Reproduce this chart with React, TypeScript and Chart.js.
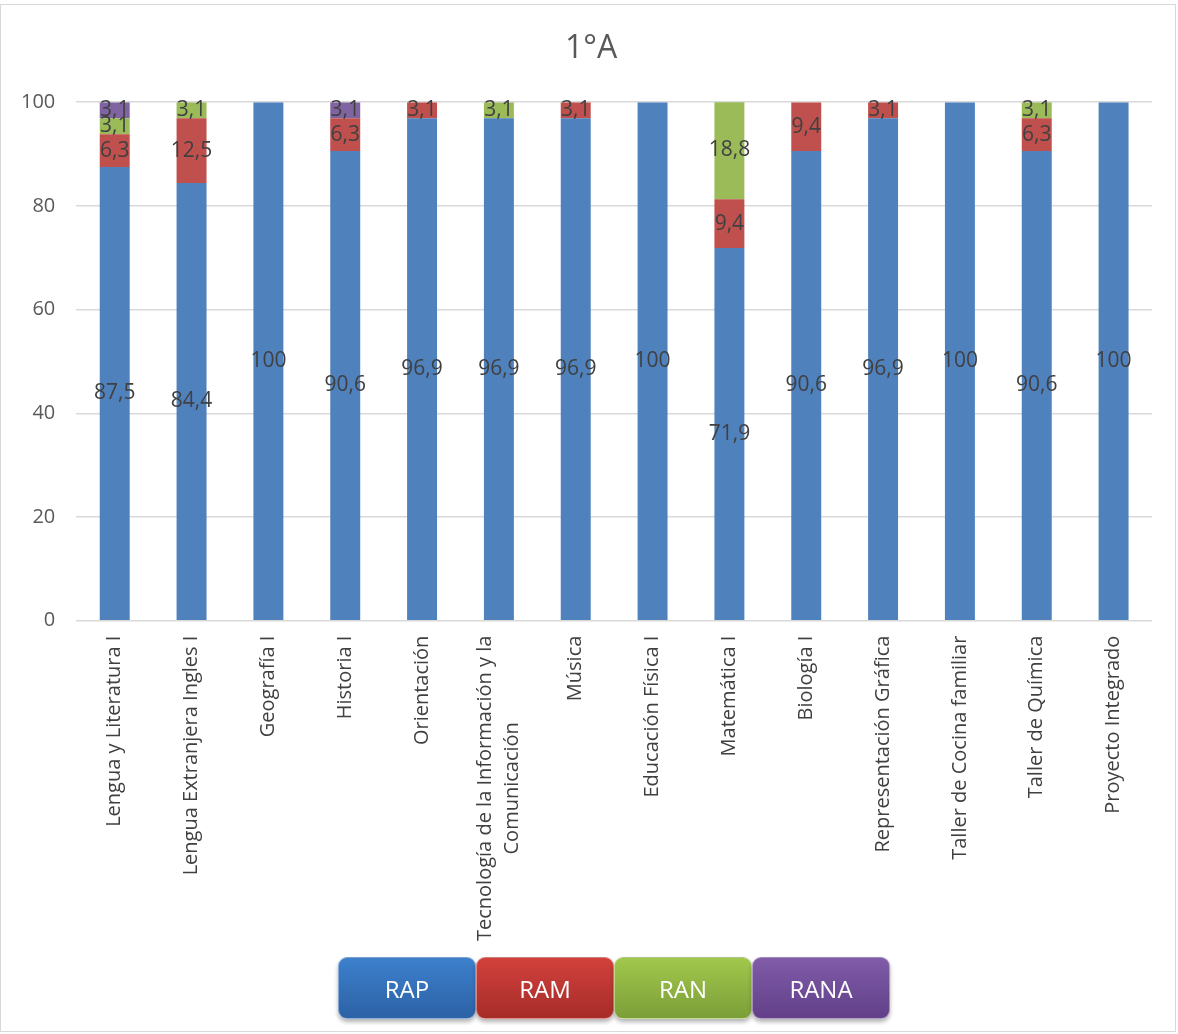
import React, { useEffect, useRef } from "react";
import { Chart, registerables } from "chart.js";

Chart.register(...registerables);

const categories: (string | string[])[] = [
  "Lengua y Literatura I",
  "Lengua Extranjera Ingles I",
  "Geografía I",
  "Historia I",
  "Orientación",
  ["Tecnología de la Información y la", "Comunicación"],
  "Música",
  "Educación Física I",
  "Matemática I",
  "Biología I",
  "Representación Gráfica",
  "Taller de Cocina familiar",
  "Taller de Química",
  "Proyecto Integrado",
];

const chartTitle = "1°A";
const seriesNames = ["RAP", "RAM", "RAN", "RANA"];
const rap = [87.5, 84.4, 100, 90.6, 96.9, 96.9, 96.9, 100, 71.9, 90.6, 96.9, 100, 90.6, 100];
const ram = [6.3, 12.5, 0, 6.3, 3.1, 0, 3.1, 0, 9.4, 9.4, 3.1, 0, 6.3, 0];
const ran = [3.1, 3.1, 0, 0, 0, 3.1, 0, 0, 18.8, 0, 0, 0, 3.1, 0];
const rana = [3.1, 0, 0, 3.1, 0, 0, 0, 0, 0, 0, 0, 0, 0, 0];
const yTicks = [0, 20, 40, 60, 80, 100];

const barColors = ["#4f81bd", "#c0504d", "#9bbb59", "#8064a2"];
const legendGradients = [
  ["#3d80cc", "#2c62a6"],
  ["#d2413c", "#a62c29"],
  ["#a1c84c", "#7c9e38"],
  ["#805ca9", "#623f88"],
];

const FONT = "'Open Sans', sans-serif";

const fmt = (v: number) => (Number.isInteger(v) ? String(v) : v.toFixed(1).replace(".", ","));

const dataLabelPlugin = {
  id: "dataLabels",
  afterDatasetsDraw(chart: any) {
    const ctx = chart.ctx;
    ctx.save();
    ctx.font = `21px ${FONT}`;
    ctx.fillStyle = "#404040";
    ctx.textAlign = "center";
    ctx.textBaseline = "middle";
    chart.data.datasets.forEach((ds: any, di: number) => {
      const meta = chart.getDatasetMeta(di);
      meta.data.forEach((el: any, i: number) => {
        const v = ds.data[i];
        if (!v) return;
        const y = (el.y + el.base) / 2;
        ctx.fillText(fmt(v), el.x, y);
      });
    });
    ctx.restore();
  },
};

const titlePlugin = {
  id: "centerTitle",
  afterDraw(chart: any) {
    const ctx = chart.ctx;
    ctx.save();
    ctx.font = `32px ${FONT}`;
    ctx.fillStyle = "#595959";
    ctx.textAlign = "center";
    ctx.textBaseline = "middle";
    ctx.fillText(chartTitle, chart.width / 2 + 2, 49);
    ctx.restore();
  },
};

const xLabelPlugin = {
  id: "xLabels",
  afterDraw(chart: any) {
    const ctx = chart.ctx;
    const scale = chart.scales.x;
    ctx.save();
    ctx.font = `20px ${FONT}`;
    ctx.fillStyle = "#404040";
    ctx.textBaseline = "middle";
    const lh = 27;
    categories.forEach((lab, i) => {
      const lines = Array.isArray(lab) ? lab : [lab];
      const x = scale.getPixelForTick(i);
      const y0 = scale.top + 15;
      const widths = lines.map((l) => ctx.measureText(l).width);
      const W = Math.max(...widths);
      ctx.save();
      ctx.translate(x, y0);
      ctx.rotate(-Math.PI / 2);
      ctx.textAlign = "center";
      lines.forEach((l, li) => {
        const yy = (li - (lines.length - 1) / 2) * lh;
        ctx.fillText(l, -W / 2, yy);
      });
      ctx.restore();
    });
    ctx.restore();
  },
};

export default function App() {
  const ref = useRef<HTMLCanvasElement | null>(null);

  useEffect(() => {
    if (!ref.current) return;
    const series = [rap, ram, ran, rana];
    const chart = new Chart(ref.current, {
      type: "bar",
      data: {
        labels: categories as any,
        datasets: series.map((d, i) => ({
          label: seriesNames[i],
          data: d,
          backgroundColor: barColors[i],
          borderWidth: 0,
          categoryPercentage: 1,
          barPercentage: 0.39,
        })),
      },
      options: {
        animation: false,
        responsive: true,
        maintainAspectRatio: false,
        layout: { padding: { left: 0, right: 26, top: 0, bottom: 88 } },
        plugins: {
          legend: { display: false },
          tooltip: { enabled: false },
          title: {
            display: true,
            text: chartTitle,
            color: "rgba(0,0,0,0)",
            font: { family: FONT, size: 31, weight: "normal" as any },
            padding: { top: 31, bottom: 34 },
          },
        },
        scales: {
          x: {
            stacked: true,
            grid: { display: false },
            border: { display: false },
            ticks: {
              autoSkip: false,
              minRotation: 90,
              maxRotation: 90,
              color: "rgba(0,0,0,0)",
              font: { family: FONT, size: 20 },
              padding: 6,
            },
          },
          y: {
            stacked: true,
            min: 0,
            max: 100,
            afterBuildTicks: (axis: any) => {
              axis.ticks = yTicks.map((v) => ({ value: v }));
            },
            grid: { color: "#d9d9d9", lineWidth: 1.5, drawTicks: false },
            border: { display: false },
            ticks: {
              color: "#595959",
              font: { family: FONT, size: 20 },
              padding: 21,
            },
          },
        },
      },
      plugins: [dataLabelPlugin, xLabelPlugin, titlePlugin],
    });
    return () => chart.destroy();
  }, []);

  return (
    <div style={{ position: "absolute", left: 0, top: 0, width: 1178, height: 1034, background: "#fff", overflow: "hidden" }}>
      <div
        style={{
          position: "absolute",
          left: 0,
          top: 4,
          width: 1176,
          height: 1028,
          border: "1px solid #d9d9d9",
          boxSizing: "border-box",
        }}
      />
      <div style={{ position: "absolute", left: 0, top: 0, width: 1178, height: 1034 }}>
        <canvas ref={ref} />
      </div>
      <div style={{ position: "absolute", left: 338, top: 957, display: "flex" }}>
        {seriesNames.map((n, i) => (
          <div
            key={n}
            style={{
              width: 138,
              height: 62,
              borderRadius: 9,
              background: `linear-gradient(${legendGradients[i][0]}, ${legendGradients[i][1]})`,
              boxShadow: "0 3px 4px rgba(0,0,0,0.3)",
              color: "#fff",
              fontFamily: FONT,
              fontSize: 24,
              display: "flex",
              alignItems: "center",
              justifyContent: "center",
              boxSizing: "border-box",
              border: "1px solid rgba(255,255,255,0.4)",
            }}
          >
            {n}
          </div>
        ))}
      </div>
    </div>
  );
}
